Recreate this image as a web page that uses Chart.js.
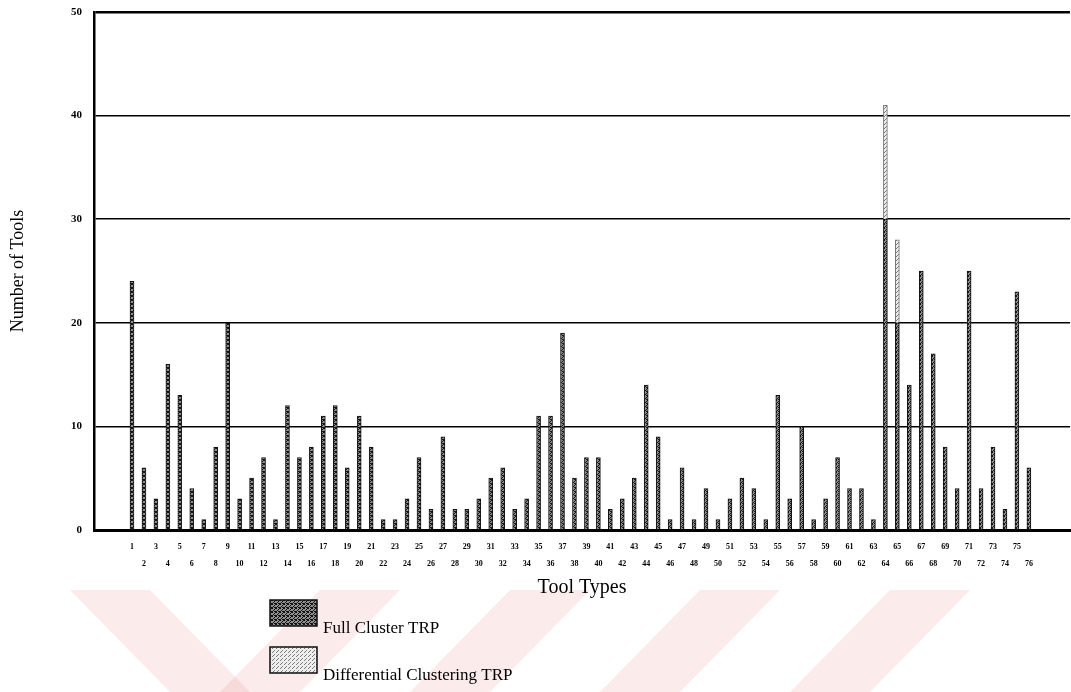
<!DOCTYPE html>
<html>
<head>
<meta charset="utf-8">
<title>Number of Tools by Tool Type</title>
<script src="https://cdn.jsdelivr.net/npm/chart.js@4.4.1/dist/chart.umd.min.js"></script>
<style>
  html, body { margin: 0; padding: 0; background: #ffffff; }
  #wrap { position: relative; width: 1071px; height: 692px; }
  canvas { display: block; }
</style>
</head>
<body>
<div id="wrap"><canvas id="chart" width="1071" height="692"></canvas></div>
<script>
// Tool type numbers shown along the x axis
const toolTypes = [
  '1','2','3','4','5','6','7','8','9','10',
  '11','12','13','14','15','16','17','18','19','20',
  '21','22','23','24','25','26','27','28','29','30',
  '31','32','33','34','35','36','37','38','39','40',
  '41','42','43','44','45','46','47','48','49','50',
  '51','52','53','54','55','56','57','58','59','60',
  '61','62','63','64','65','66','67','68','69','70',
  '71','72','73','74','75','76'
];

// Number of tools per type, full cluster TRP
const fullClusterTRP = [
  24, 6, 3, 16, 13, 4, 1, 8, 20, 3,
  5, 7, 1, 12, 7, 8, 11, 12, 6, 11,
  8, 1, 1, 3, 7, 2, 9, 2, 2, 3,
  5, 6, 2, 3, 11, 11, 19, 5, 7, 7,
  2, 3, 5, 14, 9, 1, 6, 1, 4, 1,
  3, 5, 4, 1, 13, 3, 10, 1, 3, 7,
  4, 4, 1, 30, 20, 14, 25, 17, 8, 4,
  25, 4, 8, 2, 23, 6
];

// Additional tools needed under differential clustering TRP
const differentialClusteringTRP = [
  0, 0, 0, 0, 0, 0, 0, 0, 0, 0,
  0, 0, 0, 0, 0, 0, 0, 0, 0, 0,
  0, 0, 0, 0, 0, 0, 0, 0, 0, 0,
  0, 0, 0, 0, 0, 0, 0, 0, 0, 0,
  0, 0, 0, 0, 0, 0, 0, 0, 0, 0,
  0, 0, 0, 0, 0, 0, 0, 0, 0, 0,
  0, 0, 0, 11, 8, 0, 0, 0, 0, 0,
  0, 0, 0, 0, 0, 0
];

// Y axis tick values
const yTicks = [0, 10, 20, 30, 40, 50];

const SERIF = '"Liberation Serif", "DejaVu Serif", serif';

// Stippled fill textures for the two series
function makeStipple(bg, dot, cells) {
  const c = document.createElement('canvas');
  c.width = 4; c.height = 4;
  const g = c.getContext('2d');
  g.fillStyle = bg; g.fillRect(0, 0, 4, 4);
  g.fillStyle = dot;
  cells.forEach(([x, y]) => g.fillRect(x, y, 1, 1));
  return g.createPattern(c, 'repeat');
}
const ctx = document.getElementById('chart').getContext('2d');
const darkStipple = makeStipple('#8e8e8e', '#141414', [[0,0],[2,1],[1,2],[3,3],[3,0],[0,3],[2,3]]);
const lightStipple = makeStipple('#eeeeee', '#7a7a7a', [[0,0],[2,2],[1,3]]);

// Faint diagonal bands in the lower margin
const bandPlugin = {
  id: 'bands',
  beforeDraw(chart) {
    const g = chart.ctx;
    g.save();
    g.fillStyle = '#ffffff';
    g.fillRect(0, 0, chart.width, chart.height);
    g.fillStyle = 'rgba(232, 130, 130, 0.16)';
    const top = 590, bot = chart.height;
    const shapes = [
      [[70, top], [150, top], [250, bot], [170, bot]],
      [[320, top], [400, top], [300, bot], [220, bot]],
      [[510, top], [590, top], [490, bot], [410, bot]],
      [[700, top], [780, top], [680, bot], [600, bot]],
      [[890, top], [970, top], [870, bot], [790, bot]]
    ];
    shapes.forEach(p => {
      g.beginPath();
      g.moveTo(p[0][0], p[0][1]);
      for (let i = 1; i < p.length; i++) g.lineTo(p[i][0], p[i][1]);
      g.closePath();
      g.fill();
    });
    g.restore();
  }
};

// Legend drawn as a vertical list under the axis title
const legendPlugin = {
  id: 'stackLegend',
  afterDraw(chart) {
    const g = chart.ctx;
    g.save();
    const items = chart.data.datasets.map((ds, i) => ({ text: ds.label, fill: ds.backgroundColor, y: 600 + i * 47 }));
    items.forEach(it => {
      g.fillStyle = it.fill;
      g.fillRect(270, it.y, 47, 26);
      g.strokeStyle = '#111';
      g.lineWidth = 1.5;
      g.strokeRect(270, it.y, 47, 26);
      g.fillStyle = '#000';
      g.font = '17px ' + SERIF;
      g.textBaseline = 'middle';
      g.textAlign = 'left';
      g.fillText(it.text, 323, it.y + 29);
    });
    g.restore();
  }
};

new Chart(ctx, {
  type: 'bar',
  data: {
    datasets: [
      {
        label: 'Full Cluster TRP',
        data: toolTypes.map((t, i) => ({ x: Number(t), y: fullClusterTRP[i] })),
        backgroundColor: darkStipple,
        borderColor: '#111111',
        borderWidth: 1,
        barThickness: 4
      },
      {
        label: 'Differential Clustering TRP',
        data: toolTypes.map((t, i) => ({ x: Number(t), y: differentialClusteringTRP[i] })),
        backgroundColor: lightStipple,
        borderColor: '#777777',
        borderWidth: 1,
        barThickness: 4
      }
    ]
  },
  options: {
    responsive: false,
    animation: false,
    events: [],
    layout: { padding: { left: 0, top: 12, right: 1, bottom: 92 } },
    plugins: {
      legend: { display: false },
      tooltip: { enabled: false }
    },
    scales: {
      x: {
        type: 'linear',
        stacked: true,
        min: -1.64,
        max: 78.9,
        afterFit(scale) {
          scale.height = 70;
          scale.paddingLeft = 0;
          scale.paddingRight = 0;
        },
        afterBuildTicks(scale) {
          scale.ticks = toolTypes.map(t => ({ value: Number(t) }));
        },
        grid: { display: false },
        border: { display: true, color: '#000000', width: 3 },
        ticks: {
          autoSkip: false,
          maxRotation: 0,
          padding: 0.5,
          color: '#000000',
          font: { family: SERIF, size: 8, weight: 'bold', lineHeight: 17 / 8 },
          callback(value, index) {
            const label = toolTypes[index];
            return index % 2 === 0 ? [label, ''] : ['', label];
          }
        },
        title: {
          display: true,
          text: 'Tool Types',
          color: '#000000',
          font: { family: SERIF, size: 20 },
          padding: { top: 0, bottom: 0 }
        }
      },
      y: {
        stacked: true,
        min: 0,
        max: 50,
        afterFit(scale) {
          scale.width = 94;
          scale.paddingTop = 0;
          scale.paddingBottom = 0;
        },
        afterBuildTicks(scale) {
          scale.ticks = yTicks.map(v => ({ value: v }));
        },
        grid: {
          color: '#000000',
          lineWidth: (c) => (c.tick && c.tick.value === 50 ? 2.5 : 1.5),
          drawTicks: false
        },
        border: { display: true, color: '#000000', width: 2.5 },
        ticks: {
          padding: 12,
          color: '#000000',
          font: { family: SERIF, size: 11, weight: 'bold' }
        },
        title: {
          display: true,
          text: 'Number of Tools',
          color: '#000000',
          font: { family: SERIF, size: 18 },
          padding: { top: 7, bottom: 0 }
        }
      }
    }
  },
  plugins: [bandPlugin, legendPlugin]
});
</script>
</body>
</html>
